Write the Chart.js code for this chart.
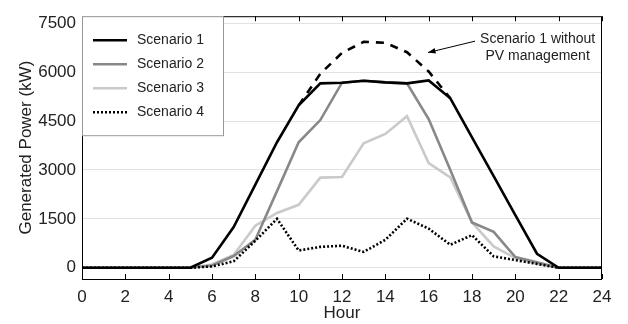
<!DOCTYPE html>
<html>
<head>
<meta charset="utf-8">
<script src="https://cdn.jsdelivr.net/npm/chart.js@4.4.1/dist/chart.umd.min.js"></script>
<style>
  html, body { margin: 0; padding: 0; background: #fff; }
  #wrap { width: 628px; height: 324px; }
</style>
</head>
<body>
<div id="wrap"><canvas id="myChart" width="628" height="324"></canvas></div>
<script>
// Часы суток
const hours = [0,1,2,3,4,5,6,7,8,9,10,11,12,13,14,15,16,17,18,19,20,21,22,23,24];

// Сценарии (кВт)
const scenario1 = [0,0,0,0,0,0,310,1250,2550,3850,4980,5655,5675,5735,5685,5655,5745,5195,4000,2810,1615,430,0,0,0];
const scenario2 = [0,0,0,0,0,0,70,360,860,2350,3850,4530,5675,5735,5685,5655,4560,3000,1390,1100,330,165,0,0,0];
const scenario3 = [0,0,0,0,0,0,100,390,1290,1680,1930,2765,2785,3820,4105,4650,3210,2770,1390,655,295,120,0,0,0];
const scenario4 = [0,0,0,0,0,0,40,200,830,1500,530,640,675,485,855,1505,1200,705,1000,350,235,118,0,0,0];
// Сценарий 1 без управления PV (только дневные часы)
const noPvMgmt = [null,null,null,null,null,null,null,null,null,null,4980,5950,6590,6930,6900,6610,6020,5195,null,null,null,null,null,null,null];

const seriesNames = ["Scenario 1", "Scenario 2", "Scenario 3", "Scenario 4"];
const yTicks = [0, 1500, 3000, 4500, 6000, 7500];
const xTicks = [0, 2, 4, 6, 8, 10, 12, 14, 16, 18, 20, 22, 24];
const noteLines = ["Scenario 1 without", "PV management"];

const FONT = "'Liberation Sans', Arial, sans-serif";
const TXT = "#222";

function pts(arr) {
  return hours.map((h, i) => ({ x: h, y: arr[i] }));
}

// Рамка, внутренние засечки, легенда и подпись со стрелкой
const decorPlugin = {
  id: "decor",
  afterDraw(chart) {
    const c = chart.ctx;
    const a = chart.chartArea;
    const xs = chart.scales.x;
    const ys = chart.scales.y;
    c.save();

    // рамка
    c.strokeStyle = "#000";
    c.lineWidth = 1;
    c.strokeRect(a.left + 0.5, a.top + 0.5, a.right - a.left - 1, a.bottom - a.top);

    // засечки внутрь
    xTicks.forEach(t => {
      const px = Math.round(xs.getPixelForValue(t)) + 0.5;
      c.beginPath();
      c.moveTo(px, a.bottom); c.lineTo(px, a.bottom - 5);
      c.moveTo(px, a.top); c.lineTo(px, a.top + 5);
      c.stroke();
    });

    // легенда
    const lx = a.left, ly = a.top, lw = 141, lh = 119;
    c.fillStyle = "#fff";
    c.fillRect(lx, ly, lw, lh);
    c.strokeStyle = "#999";
    c.strokeRect(lx + 0.5, ly + 0.5, lw, lh);
    c.font = "14px " + FONT;
    c.textBaseline = "middle";
    c.textAlign = "left";
    seriesNames.forEach((name, i) => {
      const ds = chart.data.datasets[i];
      const yy = ly + 24 + i * 24;
      c.strokeStyle = ds.borderColor;
      c.lineWidth = ds.borderWidth;
      c.setLineDash(ds.borderDash || []);
      c.beginPath();
      c.moveTo(lx + 11, yy); c.lineTo(lx + 45, yy);
      c.stroke();
      c.setLineDash([]);
      c.fillStyle = TXT;
      c.fillText(name, lx + 55, yy);
    });

    // подпись
    c.textAlign = "center";
    c.fillStyle = TXT;
    c.fillText(noteLines[0], xs.getPixelForValue(21.03), ys.getPixelForValue(7008));
    c.fillText(noteLines[1], xs.getPixelForValue(21.03), ys.getPixelForValue(6480));

    // стрелка
    const tx = xs.getPixelForValue(15.97), ty = ys.getPixelForValue(6600);
    const sx = xs.getPixelForValue(18.14), sy = ys.getPixelForValue(6950);
    const ang = Math.atan2(ty - sy, tx - sx);
    c.strokeStyle = "#000";
    c.lineWidth = 1;
    c.beginPath();
    c.moveTo(sx, sy); c.lineTo(tx, ty);
    c.stroke();
    c.fillStyle = "#000";
    c.beginPath();
    c.moveTo(tx, ty);
    c.lineTo(tx - 8 * Math.cos(ang - 0.35), ty - 8 * Math.sin(ang - 0.35));
    c.lineTo(tx - 8 * Math.cos(ang + 0.35), ty - 8 * Math.sin(ang + 0.35));
    c.closePath();
    c.fill();

    c.restore();
  }
};

const ctx = document.getElementById("myChart").getContext("2d");
new Chart(ctx, {
  type: "line",
  data: {
    datasets: [
      { label: seriesNames[0], data: pts(scenario1), borderColor: "#000", borderWidth: 2.6, order: 1 },
      { label: seriesNames[1], data: pts(scenario2), borderColor: "#888", borderWidth: 2.6, order: 2 },
      { label: seriesNames[2], data: pts(scenario3), borderColor: "#cacaca", borderWidth: 2.6, order: 3 },
      { label: seriesNames[3], data: pts(scenario4), borderColor: "#000", borderWidth: 2.6, borderDash: [2, 2], order: 0 },
      { label: noteLines.join(" "), data: pts(noPvMgmt), borderColor: "#000", borderWidth: 2.6, borderDash: [8, 7], order: 1, spanGaps: false }
    ]
  },
  options: {
    responsive: false,
    animation: false,
    layout: { padding: { top: 5, right: 26, left: 0, bottom: 0 } },
    elements: {
      point: { radius: 0 },
      line: { tension: 0, fill: false, borderCapStyle: "butt" }
    },
    plugins: { legend: { display: false }, tooltip: { enabled: false } },
    scales: {
      x: {
        type: "linear",
        min: 0, max: 24,
        afterBuildTicks: s => { s.ticks = xTicks.map(v => ({ value: v })); },
        afterFit: s => { s.height = 45; },
        grid: { display: false, drawTicks: false },
        border: { display: false },
        ticks: { color: TXT, font: { size: 17, family: FONT }, padding: 8, maxRotation: 0, callback: v => String(v) },
        title: { display: true, text: "Hour", color: TXT, font: { size: 17, family: FONT }, padding: { top: 0, bottom: 0 } }
      },
      y: {
        min: -345, max: 7715,
        afterBuildTicks: s => { s.ticks = yTicks.map(v => ({ value: v })); },
        afterFit: s => { s.width = 82; },
        grid: { color: "#e2e2e2", lineWidth: 1, drawTicks: false },
        border: { display: false },
        ticks: { color: TXT, font: { size: 17, family: FONT }, padding: 6, callback: v => String(v) },
        title: { display: true, text: "Generated Power (kW)", color: TXT, font: { size: 17, family: FONT }, padding: { top: 16, bottom: 0 } }
      }
    }
  },
  plugins: [decorPlugin]
});
</script>
</body>
</html>
